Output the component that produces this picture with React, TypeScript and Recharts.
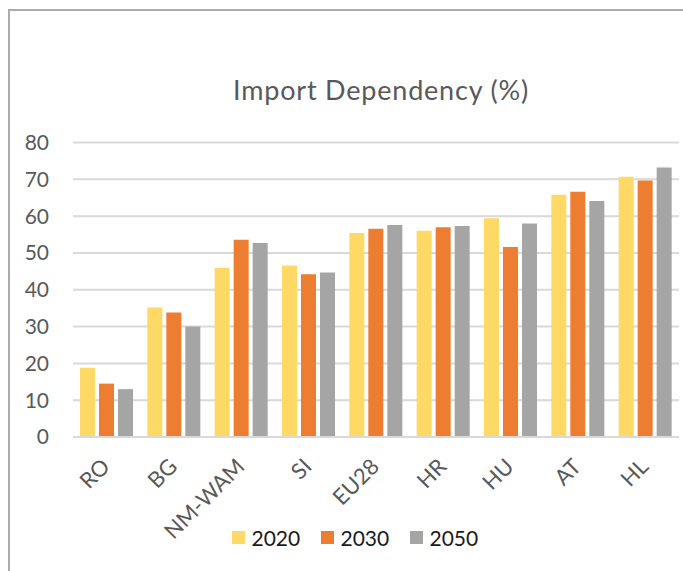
import { BarChart, Bar, XAxis, YAxis, CartesianGrid, Legend } from "recharts";

const categories = ["RO", "BG", "NM-WAM", "SI", "EU28", "HR", "HU", "AT", "HL"];
const values2020 = [18.8, 35.2, 46.0, 46.6, 55.4, 56.0, 59.4, 65.8, 70.7];
const values2030 = [14.5, 33.8, 53.6, 44.2, 56.6, 57.0, 51.6, 66.6, 69.7];
const values2050 = [13.0, 30.0, 52.7, 44.7, 57.6, 57.3, 58.0, 64.1, 73.2];
const yTicks = [0, 10, 20, 30, 40, 50, 60, 70, 80];

const SERIES = [
  { key: "2020", color: "#FFD966" },
  { key: "2030", color: "#ED7D31" },
  { key: "2050", color: "#A5A5A5" },
];

const FONT = "Lato, 'Open Sans', sans-serif";

const data = categories.map((name, i) => ({
  name,
  "2020": values2020[i],
  "2030": values2030[i],
  "2050": values2050[i],
}));

function RotatedTick({ x, y, payload }: any) {
  const tx = x + 4.5;
  const ty = y + 31;
  return (
    <text
      x={tx}
      y={ty}
      textAnchor="end"
      transform={`rotate(-45, ${tx}, ${ty})`}
      fill="#595959"
      fontSize={22}
      fontFamily={FONT}
    >
      {payload.value}
    </text>
  );
}

function LegendRow({ payload }: any) {
  return (
    <div style={{ display: "flex", alignItems: "center", height: 40, paddingLeft: 232 }}>
      {(payload || []).map((p: any) => (
        <div key={p.value} style={{ display: "flex", alignItems: "center", width: 89 }}>
          <span style={{ width: 13, height: 13, background: p.color, marginRight: 6.5 }} />
          <span style={{ fontSize: 21, fontFamily: FONT, color: "#1a1a1a" }}>{p.value}</span>
        </div>
      ))}
    </div>
  );
}

export default function App() {
  return (
    <div style={{ position: "absolute", left: 0, top: 0, width: 683, height: 571, fontFamily: FONT }}>
      <div
        style={{
          position: "absolute",
          left: 8,
          top: 9,
          width: 675,
          height: 562,
          borderLeft: "2px solid #ABABAB",
          borderTop: "2px solid #ABABAB",
          boxSizing: "border-box",
        }}
      />
      <div
        style={{
          position: "absolute",
          left: 181,
          top: 75.5,
          width: 400,
          textAlign: "center",
          fontSize: 27,
          lineHeight: "27px",
          letterSpacing: 0.8,
          color: "#595959",
          fontFamily: FONT,
        }}
      >
        Import Dependency (%)
      </div>
      <div style={{ position: "absolute", left: 0, top: 0 }}>
        <BarChart
          width={683}
          height={571}
          data={data}
          margin={{ top: 142.5, right: 4, left: 0, bottom: 14 }}
          barSize={15}
          barGap={4}
        >
          <CartesianGrid vertical={false} stroke="#D9D9D9" strokeWidth={2} />
          <XAxis
            dataKey="name"
            interval={0}
            height={80}
            tickLine={false}
            tickSize={0}
            tickMargin={0}
            axisLine={{ stroke: "#D9D9D9", strokeWidth: 2 }}
            tick={<RotatedTick />}
          />
          <YAxis
            width={73}
            domain={[0, 80]}
            ticks={yTicks}
            interval={0}
            axisLine={false}
            tickLine={false}
            tickSize={0}
            tickMargin={24}
            tick={{ fill: "#595959", fontSize: 21, fontFamily: FONT }}
          />
          <Legend verticalAlign="bottom" height={40} content={<LegendRow />} />
          {SERIES.map((s) => (
            <Bar key={s.key} dataKey={s.key} name={s.key} fill={s.color} isAnimationActive={false} />
          ))}
        </BarChart>
      </div>
    </div>
  );
}
